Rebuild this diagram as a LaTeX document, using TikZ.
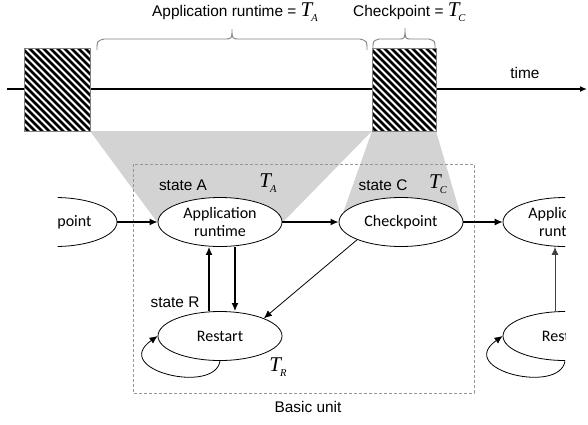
\documentclass[tikz,border=0pt]{standalone}
\usepackage{fontspec}
\setmainfont{Liberation Sans}
\newfontfamily\tmsfont{Liberation Serif}
\newfontfamily\calfont{Carlito}
\usetikzlibrary{shapes.geometric,arrows.meta}
\definecolor{shadegray}{RGB}{211,211,211}
\definecolor{dashgray}{RGB}{150,150,150}
\newcommand\Tsub[1]{{\tmsfont\itshape\fontsize{21}{21}\selectfont T\kern-1pt\raisebox{-5pt}{\fontsize{10.5}{10.5}\selectfont #1}}}
\tikzset{
  stateell/.style={ellipse, draw, line width=0.8pt, fill=white, minimum width=124pt, minimum height=49pt, inner sep=0pt, font=\calfont\fontsize{16}{18}\selectfont, align=center},
  lbl/.style={font=\fontsize{15.4}{18}\selectfont, inner sep=0pt},
  arr/.style={-{Latex[length=8pt,width=7pt]}, line width=1.4pt},
  thinarr/.style={-{Latex[length=8pt,width=7pt]}, line width=0.8pt},
  hatchline/.style={line width=2.6pt},
  bracestyle/.style={draw=gray, line width=0.9pt},
}
\begin{document}
\begin{tikzpicture}[x=1pt,y=-1pt]
\useasboundingbox (0,0) rectangle (588,424);
% gray projections
\fill[shadegray] (90,131) -- (372,131) -- (283,222) -- (157,222) -- cycle;
\fill[shadegray] (372,131) -- (436,131) -- (460,213) -- (343,213) -- cycle;
% basic unit box
\draw[dashgray, line width=0.8pt, dash pattern=on 3pt off 2pt] (133,164) rectangle (474,393);
% time axis
\coordinate (t0) at (7,89);
\coordinate (t1) at (587,89);
\draw[-{Latex[length=7pt,width=6pt]}, line width=1.4pt] (t0) -- (t1);
% hatched boxes
\foreach \xa/\xb in {24/90, 372/436} {
  \begin{scope}
    \clip (\xa,48) rectangle (\xb,131);
    \fill[white] (\xa,48) rectangle (\xb,131);
    \foreach \i in {-100,-93,...,80} \draw[hatchline] (\xa+\i,48) -- ++(100,100);
  \end{scope}
  \draw[gray, line width=0.7pt] (\xa,48) rectangle (\xb,131);
}
% braces
\draw[bracestyle] (97,50) .. controls (97,41) .. (104,39) -- (224,39) .. controls (232,39) .. (232,29)
   .. controls (232,39) .. (240,39) -- (360,39) .. controls (367,41) .. (367,50);
\draw[bracestyle] (373,48) .. controls (373,41) .. (379,39) -- (398,39) .. controls (405,39) .. (405,28)
   .. controls (405,39) .. (412,39) -- (429,39) .. controls (435,41) .. (435,48);
% top labels
\node[lbl, anchor=base west] (topA) at (152,16) {Application runtime = \Tsub{A}};
\node[lbl, anchor=base west] (topC) at (353,16) {Checkpoint = \Tsub{C}};
\node[lbl] (time) at (525,73) {time};
% states cut by the picture's edges
\begin{scope}
  \clip (57.5,0) rectangle (565,424);
  \node[stateell] (L) at (55,222) {Checkpoint};
  \node[stateell] (RA) at (565,222) {Application\\runtime};
  \node[stateell] (RR) at (565,336) {Restart};
\end{scope}
\node[stateell] (A) at (220,222) {Application\\runtime};
\node[stateell] (C) at (401,222) {Checkpoint};
\node[stateell] (R) at (220,336) {Restart};
% connectors
\draw[arr] (L.east) -- (A.west);
\draw[arr] (A.east) -- (C.west);
\draw[thinarr, line width=1.1pt] (C.east) -- (RA.west);
\draw[arr] ([xshift=-11pt]R.north) -- ([xshift=-11pt]A.south);
\draw[arr] ([xshift=15pt]A.south) -- ([xshift=15pt]R.north);
\draw[thinarr] (C.202) -- (R.22);
\draw[thinarr] (R.south) .. controls +(-5,34) and +(-48,34) .. (R.west);
\draw[thinarr, draw=black!75, line width=0.9pt] ([xshift=-10pt]RR.north) -- ([xshift=-10pt]RA.south);
\begin{scope}
  \clip (0,0) rectangle (565,424);
  \draw[thinarr] (RR.south) .. controls +(-5,34) and +(-48,34) .. (RR.west);
\end{scope}
% labels
\node[lbl] (sA) at (183,185) {state A};
\node (TA) at (268,183) {\Tsub{A}};
\node[lbl] (sC) at (383,185) {state C};
\node (TC) at (438,184) {\Tsub{C}};
\node[lbl] (sR) at (175,302) {state R};
\node (TR) at (278,367) {\Tsub{R}};
\node[lbl] (bu) at (308,407) {Basic unit};
\end{tikzpicture}
\end{document}
